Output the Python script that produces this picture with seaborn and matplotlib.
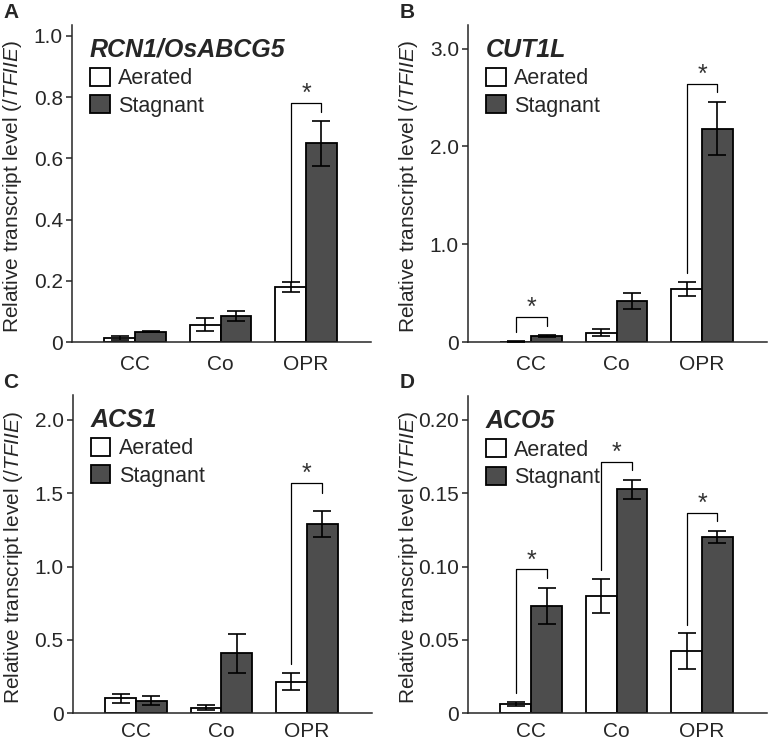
import matplotlib
matplotlib.use('Agg')
import matplotlib.pyplot as plt
import pandas as pd
import seaborn as sns
from matplotlib.patches import Patch

sns.set_style('ticks')
plt.rcParams['font.family'] = ['Liberation Sans', 'DejaVu Sans']
plt.rcParams['mathtext.fontset'] = 'custom'
plt.rcParams['mathtext.rm'] = 'Liberation Sans'
plt.rcParams['mathtext.it'] = 'Liberation Sans:italic'

# Data
groups = ['CC', 'Co', 'OPR']
conditions = ['Aerated', 'Stagnant']

rcn1_aer = [0.013, 0.056, 0.179]
rcn1_aer_err = [0.005, 0.021, 0.016]
rcn1_stag = [0.034, 0.085, 0.649]
rcn1_stag_err = [0.002, 0.017, 0.074]

cut1l_aer = [0.005, 0.095, 0.54]
cut1l_aer_err = [0.003, 0.035, 0.07]
cut1l_stag = [0.06, 0.42, 2.18]
cut1l_stag_err = [0.01, 0.08, 0.27]

acs1_aer = [0.102, 0.039, 0.216]
acs1_aer_err = [0.03, 0.018, 0.057]
acs1_stag = [0.086, 0.409, 1.29]
acs1_stag_err = [0.032, 0.132, 0.09]

aco5_aer = [0.0064, 0.080, 0.0425]
aco5_aer_err = [0.0016, 0.0114, 0.012]
aco5_stag = [0.0732, 0.1527, 0.1198]
aco5_stag_err = [0.0125, 0.0064, 0.0041]

# significance brackets: (group index, top, left leg bottom, right leg bottom)
rcn1_sig = [(2, 0.782, 0.197, 0.750)]
cut1l_sig = [(0, 0.26, 0.105, 0.16), (2, 2.64, 0.71, 2.56)]
acs1_sig = [(2, 1.568, 0.336, 1.504)]
aco5_sig = [(0, 0.098, 0.0136, 0.092), (1, 0.171, 0.0977, 0.166), (2, 0.1368, 0.060, 0.131)]

rcn1_ticks = [0, 0.2, 0.4, 0.6, 0.8, 1.0]
rcn1_labels = ['0', '0.2', '0.4', '0.6', '0.8', '1.0']
cut1l_ticks = [0, 1.0, 2.0, 3.0]
cut1l_labels = ['0', '1.0', '2.0', '3.0']
acs1_ticks = [0, 0.5, 1.0, 1.5, 2.0]
acs1_labels = ['0', '0.5', '1.0', '1.5', '2.0']
aco5_ticks = [0, 0.05, 0.10, 0.15, 0.20]
aco5_labels = ['0', '0.05', '0.10', '0.15', '0.20']

colors = {'Aerated': 'white', 'Stagnant': '#4d4d4d'}


def draw_panel(ax, gene, aer, aer_err, stag, stag_err, sig, ymax, ticks, labels, xpad):
    df = pd.DataFrame({
        'group': groups * 2,
        'condition': ['Aerated'] * 3 + ['Stagnant'] * 3,
        'value': aer + stag,
    })
    sns.barplot(data=df, x='group', y='value', hue='condition', order=groups,
                hue_order=conditions, palette=colors, saturation=1,
                edgecolor='black', linewidth=1.3, width=0.72,
                errorbar=None, legend=False, ax=ax)

    # error bars on top of seaborn's bars
    for cont, errs in zip(ax.containers, [aer_err, stag_err]):
        for bar, e in zip(cont, errs):
            ax.errorbar(bar.get_x() + bar.get_width() / 2, bar.get_height(), yerr=e,
                        fmt='none', ecolor='black', elinewidth=1.2,
                        capsize=6.5, capthick=1.2, zorder=3)

    # brackets with stars
    for g, top, lb, rb in sig:
        xl = ax.containers[0][g]
        xr = ax.containers[1][g]
        x1 = xl.get_x() + xl.get_width() / 2
        x2 = xr.get_x() + xr.get_width() / 2
        ax.plot([x1, x1, x2, x2], [lb, top, top, rb], color='black', lw=0.9)
        ax.annotate('*', ((x1 + x2) / 2, top), xytext=(0, 1.5),
                    textcoords='offset points', ha='center', va='baseline',
                    fontsize=18, color='#333333')

    ax.set_xlim(-0.74, 2.76)
    ax.set_ylim(0, ymax)
    ax.set_yticks(ticks)
    ax.set_yticklabels(labels)
    ax.set_xlabel('')
    ax.set_ylabel(r'Relative transcript level ($\mathit{/TFIIE}$)', fontsize=15)
    ax.yaxis.set_label_coords(-0.16, 0.49)
    ax.tick_params(axis='y', labelsize=15, length=4, width=1.1, direction='out', pad=2.5)
    ax.tick_params(axis='x', labelsize=15, length=0, pad=xpad)
    for s in ['left', 'bottom']:
        ax.spines[s].set_linewidth(1.1)
    sns.despine(ax=ax)

    handles = [Patch(facecolor=colors[c], edgecolor='black', linewidth=1.3, label=c)
               for c in conditions]
    ax.legend(handles=handles, title=gene, loc='upper left',
              bbox_to_anchor=(0.06, 0.96), frameon=False, fontsize=15.5,
              title_fontproperties={'weight': 'bold', 'style': 'italic', 'size': 18},
              alignment='left', handlelength=0.92, handleheight=0.92,
              handletextpad=0.4, labelspacing=0.28, borderpad=0, borderaxespad=0)


fig = plt.figure(figsize=(7.7, 7.43), dpi=100)
axA = fig.add_axes([0.0935, 0.5397, 0.3883, 0.4266])
axB = fig.add_axes([0.6078, 0.5397, 0.3883, 0.4266])
axC = fig.add_axes([0.0944, 0.0400, 0.3883, 0.4284])
axD = fig.add_axes([0.6078, 0.0400, 0.3883, 0.4266])

draw_panel(axA, 'RCN1/OsABCG5', rcn1_aer, rcn1_aer_err, rcn1_stag, rcn1_stag_err,
           rcn1_sig, 1.035, rcn1_ticks, rcn1_labels, 9)
draw_panel(axB, 'CUT1L', cut1l_aer, cut1l_aer_err, cut1l_stag, cut1l_stag_err,
           cut1l_sig, 3.24, cut1l_ticks, cut1l_labels, 9)
draw_panel(axC, 'ACS1', acs1_aer, acs1_aer_err, acs1_stag, acs1_stag_err,
           acs1_sig, 2.17, acs1_ticks, acs1_labels, 6.5)
draw_panel(axD, 'ACO5', aco5_aer, aco5_aer_err, aco5_stag, aco5_stag_err,
           aco5_sig, 0.216, aco5_ticks, aco5_labels, 6.5)

for letter, x, y in [('A', 3, 3), ('B', 400, 3), ('C', 3, 373), ('D', 400, 373)]:
    fig.text(x / 770, 1 - y / 743, letter, fontsize=15, fontweight='bold',
             ha='left', va='top')

fig.savefig('out.png', dpi=100)
